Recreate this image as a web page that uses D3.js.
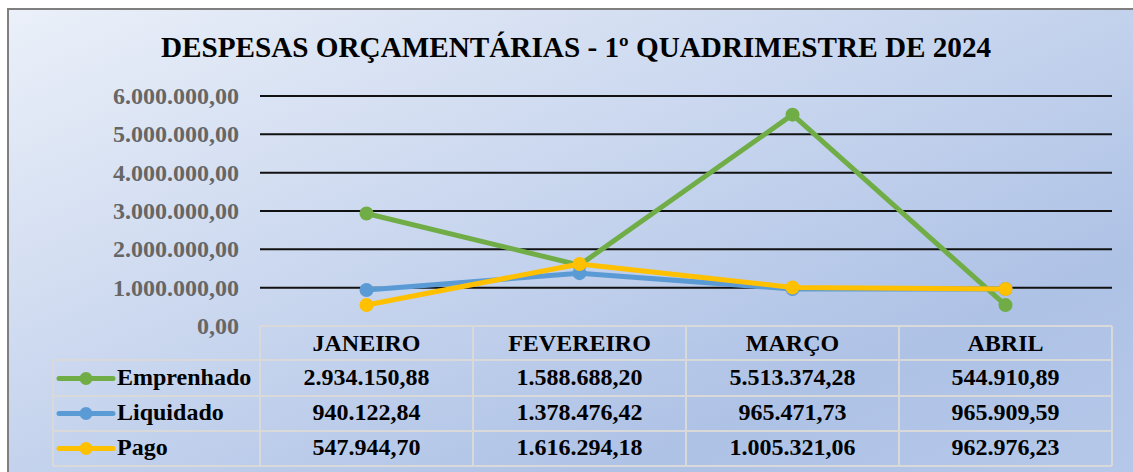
<!DOCTYPE html>
<html><head><meta charset="utf-8">
<script src="https://cdn.jsdelivr.net/npm/d3@7"></script>
<style>html,body{margin:0;padding:0;background:#fff;}svg{display:block;}
svg text{font-family:"Liberation Serif","Times New Roman","DejaVu Serif",serif;font-weight:bold;}</style>
</head><body>
<script>
const categories = ["JANEIRO", "FEVEREIRO", "MARÇO", "ABRIL"];
const seriesNames = ["Emprenhado", "Liquidado", "Pago"];
const emprenhado = [2934150.88, 1588688.20, 5513374.28, 544910.89];
const liquidado = [940122.84, 1378476.42, 965471.73, 965909.59];
const pago = [547944.70, 1616294.18, 1005321.06, 962976.23];
const yTicks = [0, 1000000, 2000000, 3000000, 4000000, 5000000, 6000000];
const title = "DESPESAS ORÇAMENTÁRIAS - 1º QUADRIMESTRE DE 2024";
const colors = ["#70ad47", "#5b9bd5", "#ffc000"];

const W = 1133, H = 472;
const series = [emprenhado, liquidado, pago];
const fmt = v => {
  const s = v.toFixed(2).split(".");
  return s[0].replace(/\B(?=(\d{3})+(?!\d))/g, ".") + "," + s[1];
};

const svg = d3.select("body").append("svg").attr("width", W).attr("height", H);
const defs = svg.append("defs");
const grad = defs.append("linearGradient").attr("id", "bg")
  .attr("x1", "0").attr("y1", "0").attr("x2", "1").attr("y2", "1");
grad.append("stop").attr("offset", "0").attr("stop-color", "#ebf0f9");
grad.append("stop").attr("offset", "0.75").attr("stop-color", "#aec2e6");
grad.append("stop").attr("offset", "1").attr("stop-color", "#b6c9ea");

svg.append("rect").attr("x", 8).attr("y", 9).attr("width", W + 10).attr("height", H + 10)
  .attr("fill", "url(#bg)").attr("stroke", "#7f7f7f").attr("stroke-width", 2);

svg.append("text").attr("x", 576).attr("y", 57).attr("text-anchor", "middle")
  .attr("font-size", 29.2).attr("fill", "#000").text(title);

const x = d3.scaleBand().domain(categories).range([260, 1112]);
const y = d3.scaleLinear().domain([0, 6000000]).range([326, 96]);

// gridlines
svg.append("g").selectAll("line").data(yTicks.filter(t => t > 0)).join("line")
  .attr("x1", 260).attr("x2", 1112)
  .attr("y1", d => y(d)).attr("y2", d => y(d))
  .attr("stroke", "#111").attr("stroke-width", 2);

// y axis labels
svg.append("g").selectAll("text").data(yTicks).join("text")
  .attr("x", 239).attr("y", d => y(d) + 8).attr("text-anchor", "end")
  .attr("font-size", 24).attr("fill", "#666").text(d => fmt(d));

// table
const rowH = 35;
const tTop = 326;
const gTab = svg.append("g");
const border = "#d9d9d9";
gTab.append("line").attr("x1", 260).attr("x2", 1112).attr("y1", tTop).attr("y2", tTop)
  .attr("stroke", border).attr("stroke-width", 2);
for (let i = 1; i <= 4; i++) {
  const yy = tTop + i * rowH - (i === 1 ? 1 : 0);
  gTab.append("line").attr("x1", 53).attr("x2", 1112)
    .attr("y1", yy).attr("y2", yy)
    .attr("stroke", border).attr("stroke-width", 2);
}
gTab.append("line").attr("x1", 53).attr("x2", 53).attr("y1", tTop + rowH - 1).attr("y2", tTop + 4 * rowH)
  .attr("stroke", border).attr("stroke-width", 2);
[260, ...categories.map(c => x(c) + x.bandwidth())].forEach(xx => {
  gTab.append("line").attr("x1", xx).attr("x2", xx).attr("y1", tTop).attr("y2", tTop + 4 * rowH)
    .attr("stroke", border).attr("stroke-width", 2);
});
gTab.selectAll("text.h").data(categories).join("text").attr("class", "h")
  .attr("x", d => x(d) + x.bandwidth() / 2).attr("y", tTop + 25)
  .attr("text-anchor", "middle").attr("font-size", 24).attr("fill", "#000").text(d => d);
series.forEach((vals, si) => {
  const ry = tTop + (si + 1) * rowH + 24;
  gTab.append("g").selectAll("text").data(vals).join("text")
    .attr("x", (d, i) => x(categories[i]) + x.bandwidth() / 2).attr("y", ry)
    .attr("text-anchor", "middle").attr("font-size", 24).attr("fill", "#000").text(d => fmt(d));
  const cy = tTop + (si + 1) * rowH + rowH / 2;
  gTab.append("line").attr("x1", 59).attr("x2", 113).attr("y1", cy).attr("y2", cy)
    .attr("stroke", colors[si]).attr("stroke-width", 5).attr("stroke-linecap", "round");
  gTab.append("circle").attr("cx", 86).attr("cy", cy).attr("r", 6.5).attr("fill", colors[si]);
  gTab.append("text").attr("x", 117).attr("y", ry)
    .attr("font-size", 24).attr("fill", "#000").text(seriesNames[si]);
});

const line = d3.line().x((d, i) => x(categories[i]) + x.bandwidth() / 2).y(d => y(d));
series.forEach((vals, si) => {
  const g = svg.append("g");
  g.append("path").datum(vals).attr("d", line).attr("fill", "none")
    .attr("stroke", colors[si]).attr("stroke-width", 5).attr("stroke-linejoin", "round")
    .attr("stroke-linecap", "round");
  g.selectAll("circle").data(vals).join("circle")
    .attr("cx", (d, i) => x(categories[i]) + x.bandwidth() / 2).attr("cy", d => y(d))
    .attr("r", 7).attr("fill", colors[si]);
});
</script>
</body></html>
